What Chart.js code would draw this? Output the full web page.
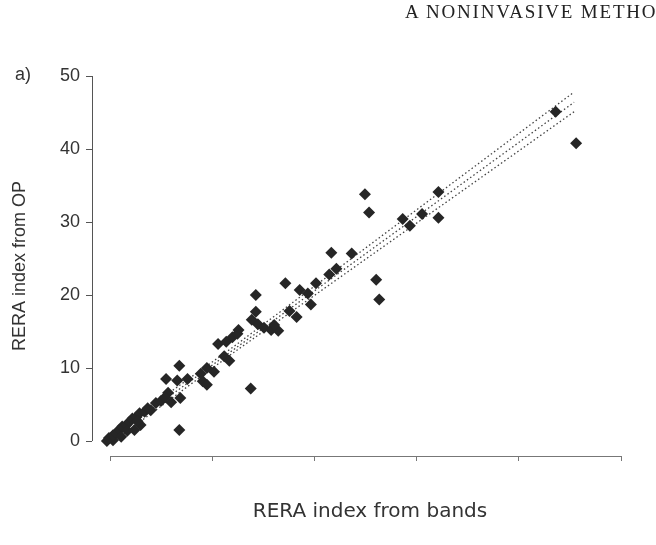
<!DOCTYPE html>
<html>
<head>
<meta charset="utf-8">
<script src="https://cdn.jsdelivr.net/npm/chart.js@4/dist/chart.umd.min.js"></script>
<style>
  html, body { margin: 0; padding: 0; background: #fff; overflow: hidden; }
  #wrap { position: relative; width: 656px; height: 545px; overflow: hidden; }
  .txt { position: absolute; white-space: nowrap; }
  #header { left: 405px; top: 1px; font: 19px "Liberation Serif", serif; letter-spacing: 1.8px; color: #222; }
  #panel { left: 15px; top: 64px; font: 18px "Liberation Sans", Arial, sans-serif; color: #333; }
  #xtitle { left: 0; width: 740px; top: 498px; text-align: center; font: 20px "DejaVu Sans", sans-serif; color: #333; }
</style>
</head>
<body>
<div id="wrap">
  <canvas id="reraChart" width="656" height="545"></canvas>
  <div class="txt" id="header">A NONINVASIVE METHO</div>
  <div class="txt" id="panel">a)</div>
  <div class="txt" id="xtitle">RERA index from bands</div>
</div>
<script>
// RERA index: bands (x) vs OP (y)
const bandsX = [-0.4, 0.2, -0.2, 0.2, 0.5, 0.8, 1.1, 1.5, 1.8, 2.1, 2.5, 2.8, 3.3, 3.6, 2.9, 2.3, 1.0, 1.6, 2.6,
  3.9, 4.4, 4.9, 5.6, 5.9, 6.8, 5.3, 6.7, 5.4, 6.5, 7.5, 6.7, 9.4, 8.8, 10.1, 9.0, 9.4, 13.7,
  10.5, 11.3, 11.9, 12.5, 12.4, 11.1, 11.6, 14.2, 14.2, 13.8, 14.4, 15.0, 15.7, 16.4, 16.0,
  17.1, 18.5, 19.3, 19.6, 17.5, 18.2, 20.1, 21.6, 23.6, 21.4, 22.1, 26.0, 26.3,
  24.9, 25.3, 32.1, 32.1, 30.5, 28.6, 29.3, 43.6, 45.6];
const opY = [0.0, 0.1, 0.4, 0.8, 1.1, 1.5, 2.0, 2.2, 2.6, 3.1, 3.3, 3.8, 4.0, 4.5, 2.2, 1.5, 0.6, 1.4, 2.7,
  4.2, 5.2, 5.5, 6.6, 5.3, 5.9, 6.0, 1.5, 8.5, 8.3, 8.5, 10.3, 10.0, 9.2, 9.5, 8.2, 7.7, 7.2,
  13.3, 13.6, 14.2, 15.2, 14.7, 11.6, 11.0, 20.0, 17.7, 16.6, 16.0, 15.5, 15.2, 15.1, 15.9,
  21.6, 20.7, 20.2, 18.7, 17.8, 17.0, 21.6, 25.8, 25.7, 22.8, 23.6, 22.1, 19.4,
  33.8, 31.3, 34.1, 30.6, 31.1, 30.4, 29.5, 45.1, 40.8];

// regression line and its confidence limits (dotted)
const fitX = [0, 12, 45.4];
const fitMid = [0.3, 12.5, 46.4];
const fitUpper = [0.9, 12.9, 47.8];
const fitLower = [-0.3, 12.1, 45.1];

const yTicks = [0, 10, 20, 30, 40, 50];
const xTicks = [0, 10, 20, 30, 40, 50];

const toPts = (xs, ys) => xs.map((x, i) => ({ x: x, y: ys[i] }));

function dotted(ys) {
  return {
    data: toPts(fitX, ys),
    showLine: true,
    borderColor: '#444',
    borderWidth: 1.3,
    borderDash: [1.5, 2.5],
    pointRadius: 0,
    fill: false
  };
}

// axis lines only span the ticked range, like in the figure
const axisLines = {
  id: 'axisLines',
  beforeDatasetsDraw(chart) {
    const c = chart.ctx, x = chart.scales.x, y = chart.scales.y, a = chart.chartArea;
    c.save();
    c.lineWidth = 1;
    c.strokeStyle = '#555';
    c.beginPath();
    c.moveTo(a.left + 0.5, y.getPixelForValue(50));
    c.lineTo(a.left + 0.5, y.getPixelForValue(0));
    c.stroke();
    c.strokeStyle = '#777';
    c.beginPath();
    c.moveTo(x.getPixelForValue(0), a.bottom + 0.5);
    c.lineTo(x.getPixelForValue(50), a.bottom + 0.5);
    c.stroke();
    c.restore();
  }
};

const ctx = document.getElementById('reraChart').getContext('2d');
const reraChart = new Chart(ctx, {
  type: 'scatter',
  data: {
    datasets: [
      {
        data: toPts(bandsX, opY),
        pointStyle: 'rectRot',
        pointRadius: 6,
        pointBorderWidth: 0,
        backgroundColor: '#262626',
        borderColor: '#262626'
      },
      dotted(fitUpper),
      dotted(fitMid),
      dotted(fitLower)
    ]
  },
  plugins: [axisLines],
  options: {
    responsive: false,
    animation: false,
    layout: { padding: { top: 76, right: 35, left: 0, bottom: 0 } },
    plugins: { legend: { display: false }, tooltip: { enabled: false } },
    scales: {
      x: {
        type: 'linear',
        min: -1.86,
        max: 50,
        afterBuildTicks: s => { s.ticks = xTicks.map(v => ({ value: v })); },
        afterFit: s => { s.height = 89; },
        border: { display: false },
        grid: { drawOnChartArea: false, drawTicks: true, tickLength: 5, color: '#777' },
        ticks: { display: false }
      },
      y: {
        min: -2.05,
        max: 50,
        afterBuildTicks: s => { s.ticks = yTicks.map(v => ({ value: v })); },
        afterFit: s => { s.width = 92; },
        border: { display: false },
        grid: { drawOnChartArea: false, drawTicks: true, tickLength: 6, color: '#555' },
        ticks: {
          color: '#333',
          padding: 6,
          font: { family: 'Liberation Sans', size: 18 }
        },
        title: {
          display: true,
          text: 'RERA index from OP',
          color: '#333',
          padding: { top: 9, bottom: 0 },
          font: { family: 'Liberation Sans', size: 18 }
        }
      }
    }
  }
});
</script>
</body>
</html>
